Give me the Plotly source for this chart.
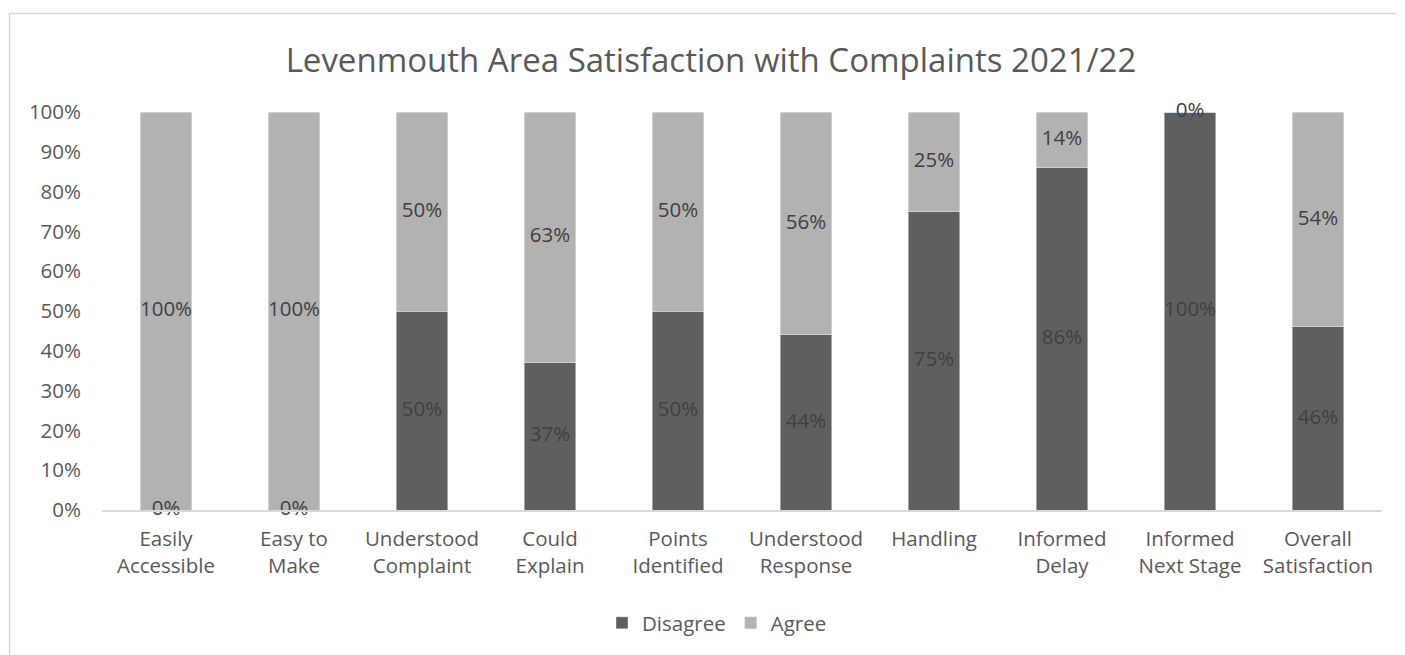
import plotly.graph_objects as go

categories = ["Easily<br>Accessible", "Easy to<br>Make", "Understood<br>Complaint", "Could<br>Explain",
              "Points<br>Identified", "Understood<br>Response", "Handling", "Informed<br>Delay",
              "Informed<br>Next Stage", "Overall<br>Satisfaction"]
disagree = [0.00, 0.00, 0.50, 0.37, 0.50, 0.44, 0.75, 0.86, 1.00, 0.46]
agree = [1.00, 1.00, 0.50, 0.63, 0.50, 0.56, 0.25, 0.14, 0.00, 0.54]

title_text = "Levenmouth Area Satisfaction with Complaints 2021/22"
FONT = "Open Sans"
FS = 20.5
C_DIS = "#5f5f5f"
C_AGR = "#b2b2b2"
TXT = "#595959"
LBL = "#404040"

# page is offset by 8px body margin
W, H = 1397, 647

fig = go.Figure()
fig.add_trace(go.Bar(x=categories, y=disagree, name="Disagree", marker_color=C_DIS))
fig.add_trace(go.Bar(x=categories, y=agree, name="Agree", marker_color=C_AGR))

# data labels at segment centres
dis_mid = [d / 2 for d in disagree]
agr_mid = [d + a / 2 for d, a in zip(disagree, agree)]
fig.add_trace(go.Scatter(x=categories, y=dis_mid, mode="text",
                         text=[f"{round(v*100)}%" for v in disagree],
                         textfont=dict(family=FONT, size=FS, color=LBL),
                         showlegend=False, cliponaxis=False, hoverinfo="skip"))
fig.add_trace(go.Scatter(x=categories, y=agr_mid, mode="text",
                         text=[f"{round(v*100)}%" for v in agree],
                         textfont=dict(family=FONT, size=FS, color=LBL),
                         showlegend=False, cliponaxis=False, hoverinfo="skip"))

# border (x: (px-102)/1280, y: (510-py)/398)
fig.add_shape(type="rect", xref="paper", yref="paper",
              x0=(9.5 - 102) / 1280, x1=1.2, y0=-0.6, y1=(510 - 13.5) / 398,
              line=dict(color="#d9d9d9", width=1.5), fillcolor="rgba(0,0,0,0)", layer="below")

fig.update_layout(
    width=W, height=H,
    margin=dict(l=94, r=23, t=104, b=145),
    barmode="stack", bargap=0.6,
    plot_bgcolor="white", paper_bgcolor="white",
    font=dict(family=FONT, size=FS, color=TXT),
    title=dict(text=title_text, xref="container", yref="container",
               x=(711 - 8) / W, y=1 - (60 - 8) / H, xanchor="center", yanchor="middle",
               font=dict(family=FONT, size=33, color=TXT)),
    legend=dict(orientation="h", xanchor="center", yanchor="middle",
                x=(717 - 102) / 1280, y=(510 - 623) / 398,
                font=dict(family=FONT, size=FS, color=TXT), traceorder="normal"),
    xaxis=dict(showline=True, linecolor="#d9d9d9", linewidth=1.5, showgrid=False,
               tickfont=dict(family=FONT, size=FS, color=TXT), ticklabelstandoff=10),
    yaxis=dict(range=[0, 1], tickformat=".0%", dtick=0.1, showgrid=False, showline=False,
               zeroline=False, tickfont=dict(family=FONT, size=FS, color=TXT),
               ticklabelstandoff=20),
)

fig.write_html("out.html")
